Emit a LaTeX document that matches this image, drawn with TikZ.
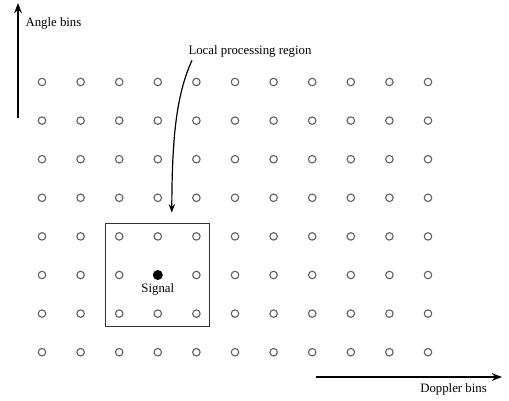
\documentclass[tikz,border=0pt]{standalone}
\usepackage{fontspec}
\setmainfont{Liberation Serif}
\usetikzlibrary{arrows.meta, positioning, fit}

\begin{document}
\begin{tikzpicture}[x=1pt, y=-1pt, >=Stealth, font=\fontsize{12.8}{15}\selectfont]
    \tikzset{
        bin/.style={draw=gray!75!black, circle, line width=1.1pt, minimum size=7.5pt, inner sep=0pt},
        axis/.style={->, line width=1.6pt},
    }
    \useasboundingbox (0,0) rectangle (509,401);

    % Luoi cac o (Doppler x goc)
    \foreach \i in {1,...,11} {
        \foreach \j in {1,...,8} {
            \node[bin] (c-\i-\j) at ({42+38.6*(\i-1)}, {82+38.6*(\j-1)}) {};
        }
    }

    % Tin hieu va vung xu ly cuc bo
    \node[circle, fill=black, minimum size=10pt, inner sep=0pt] (signal) at (c-4-6) {};
    \node[below=0pt of signal] (siglab) {Signal};
    \node[draw=black!80, line width=1pt, fit=(c-3-5)(c-5-7), inner sep=9pt] (region) {};

    \node (lpr) at (250,51) {Local processing region};
    \draw[->, line width=1.2pt] ([xshift=-58pt]lpr.south) .. controls (176,95) and (172,140) .. ([xshift=14pt, yshift=10pt]region.north);

    % Cac truc
    \coordinate (a0) at (18,118);
    \coordinate (a1) at (18,3);
    \draw[axis] (a0) -- (a1);
    \node[anchor=west] (anglab) at (22,23) {Angle bins};

    \coordinate (d0) at (316,377);
    \coordinate (d1) at (502,377);
    \draw[axis] (d0) -- (d1);
    \node (doplab) at (453.5,389) {Doppler bins};
\end{tikzpicture}
\end{document}
